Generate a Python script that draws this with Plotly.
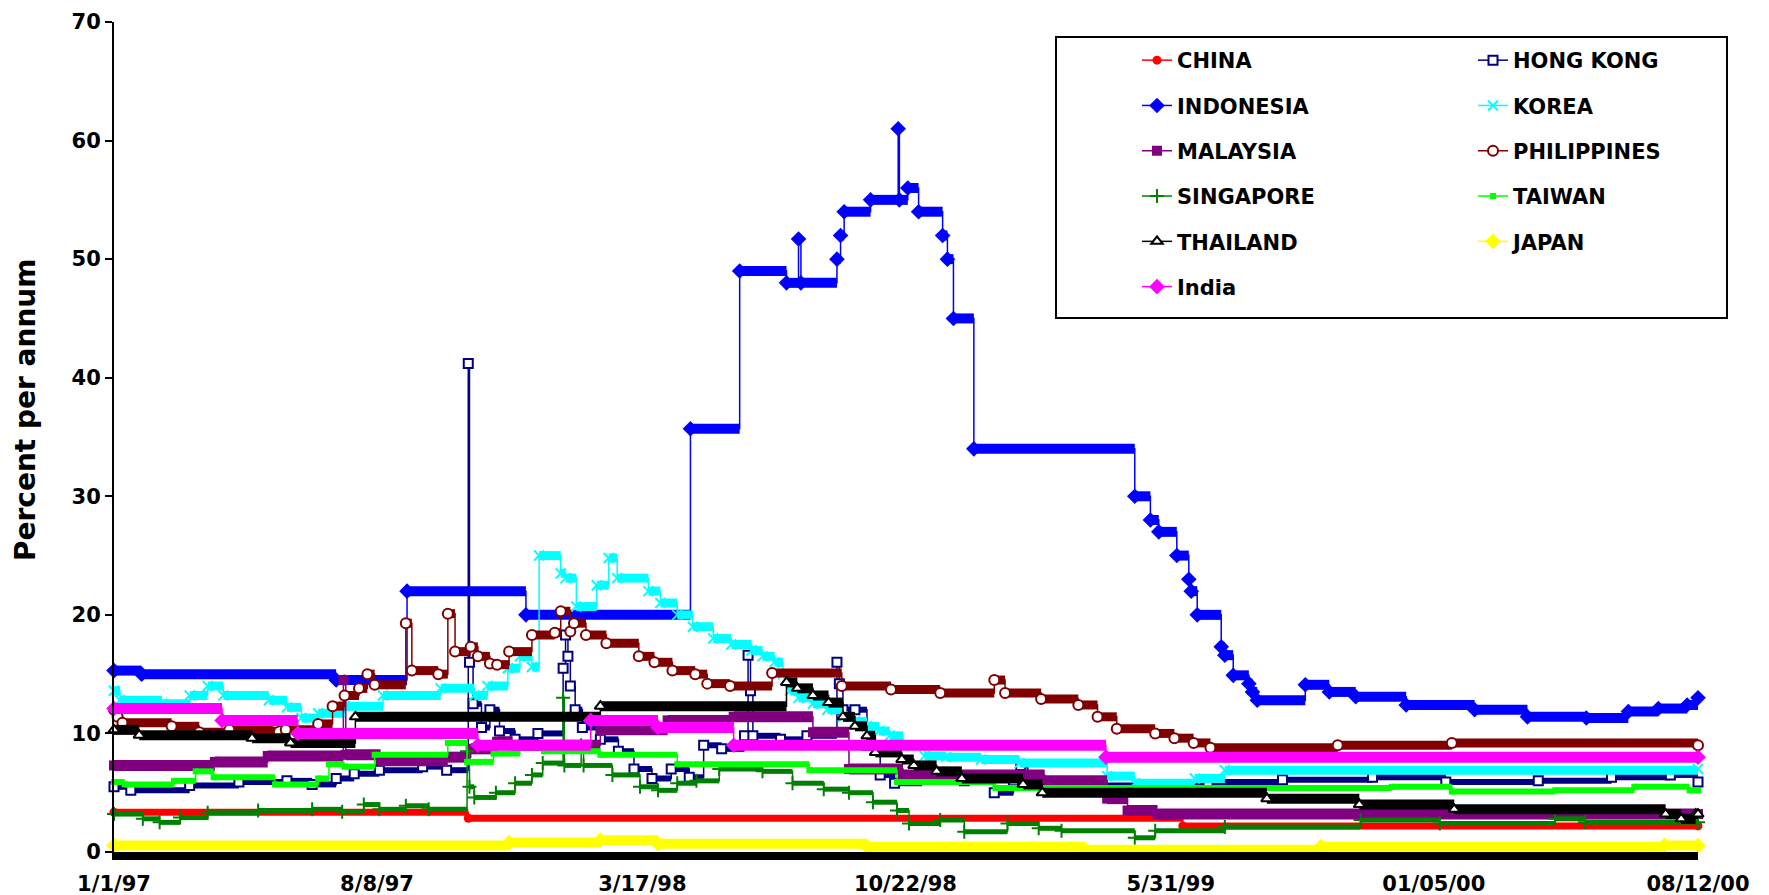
import plotly.graph_objects as go

# ---------------- data ----------------
tick_dates = ["1997-01-01", "1997-08-08", "1998-03-17", "1998-10-22",
              "1999-05-31", "2000-01-05", "2000-08-12"]
tick_labels = ["1/1/97", "8/8/97", "3/17/98", "10/22/98", "5/31/99", "01/05/00", "08/12/00"]

china_dates = ["1997-01-01", "1997-10-23", "1999-06-10", "2000-08-12"]
china_values = [3.35, 2.85, 2.2, 2.2]

hongkong_dates = ["1997-01-01", "1997-01-15", "1997-03-05", "1997-04-15", "1997-05-25", "1997-06-15",
                  "1997-07-05", "1997-07-20", "1997-08-10", "1997-09-15", "1997-10-05", "1997-10-23",
                  "1997-10-24", "1997-10-27", "1997-11-03", "1997-11-10", "1997-11-18", "1997-12-01",
                  "1997-12-20", "1998-01-10", "1998-01-12", "1998-01-14", "1998-01-16", "1998-01-20",
                  "1998-01-26", "1998-02-10", "1998-02-25", "1998-03-10", "1998-03-25", "1998-04-10",
                  "1998-04-25", "1998-05-07", "1998-05-22", "1998-06-10", "1998-06-13", "1998-06-15",
                  "1998-06-17", "1998-07-10", "1998-08-01", "1998-08-26", "1998-08-28", "1998-08-31",
                  "1998-09-10", "1998-09-20", "1998-10-01", "1998-10-13", "1998-11-05", "1998-12-10",
                  "1999-01-04", "1999-01-20", "1999-01-26", "1999-02-01", "1999-04-01", "1999-07-01",
                  "1999-09-01", "1999-11-15", "2000-01-15", "2000-04-01", "2000-06-01", "2000-07-20",
                  "2000-08-12"]
hongkong_values = [5.5, 5.2, 5.6, 5.9, 6.0, 5.7,
                   6.2, 6.6, 6.9, 7.2, 6.9, 41.2,
                   16.0, 12.5, 10.5, 12.0, 10.2, 9.5,
                   10.0, 15.5, 18.3, 16.5, 14.0, 12.0,
                   10.5, 9.5, 8.5, 7.0, 6.2, 7.0,
                   6.3, 9.0, 8.7, 9.8, 16.6, 13.6,
                   9.8, 9.5, 9.8, 16.0, 14.2, 12.0,
                   12.0, 9.0, 6.5, 5.8, 6.5, 6.0,
                   5.0, 6.0, 7.3, 6.0, 5.6, 5.9,
                   6.1, 6.3, 5.9, 6.0, 6.3, 6.5,
                   5.9]

indonesia_dates = ["1997-01-01", "1997-01-24", "1997-07-05", "1997-09-02", "1997-12-10", "1998-04-26",
                   "1998-06-06", "1998-07-15", "1998-07-25", "1998-07-27", "1998-08-26", "1998-08-29",
                   "1998-09-01", "1998-09-23", "1998-10-16", "1998-10-17", "1998-10-24", "1998-11-02",
                   "1998-11-22", "1998-11-26", "1998-12-01", "1998-12-18", "1999-05-01", "1999-05-14",
                   "1999-05-21", "1999-06-05", "1999-06-15", "1999-06-17", "1999-06-22", "1999-07-12",
                   "1999-07-15", "1999-07-22", "1999-08-04", "1999-08-07", "1999-08-11", "1999-09-20",
                   "1999-10-10", "1999-11-01", "1999-12-13", "2000-02-08", "2000-03-23", "2000-05-11",
                   "2000-06-15", "2000-07-10", "2000-08-03", "2000-08-12"]
indonesia_values = [15.3, 15.0, 14.5, 22.0, 20.0, 35.7,
                    49.0, 48.0, 51.7, 48.0, 50.0, 52.0,
                    54.0, 55.0, 61.0, 55.0, 56.0, 54.0,
                    52.0, 50.0, 45.0, 34.0, 30.0, 28.0,
                    27.0, 25.0, 23.0, 22.0, 20.0, 17.3,
                    16.6, 14.9, 14.2, 13.5, 12.8, 14.1,
                    13.5, 13.1, 12.4, 12.0, 11.4, 11.3,
                    11.85, 12.1, 12.4, 13.0]

korea_dates = ["1997-01-01", "1997-01-06", "1997-02-10", "1997-03-05", "1997-03-20", "1997-04-02",
               "1997-05-10", "1997-05-25", "1997-06-06", "1997-06-20", "1997-07-12", "1997-08-13",
               "1997-09-30", "1997-10-28", "1997-11-08", "1997-11-25", "1997-12-05", "1997-12-15",
               "1997-12-21", "1998-01-08", "1998-01-12", "1998-01-21", "1998-02-07", "1998-02-17",
               "1998-02-24", "1998-03-22", "1998-04-01", "1998-04-15", "1998-04-28", "1998-05-15",
               "1998-05-30", "1998-06-16", "1998-06-25", "1998-07-05", "1998-07-12", "1998-07-18",
               "1998-07-25", "1998-08-06", "1998-08-18", "1998-08-31", "1998-09-10", "1998-09-20",
               "1998-09-30", "1998-10-09", "1998-10-20", "1998-11-07", "1998-11-25", "1998-12-24",
               "1999-01-25", "1999-04-08", "1999-05-01", "1999-06-20", "1999-07-15", "2000-08-12"]
korea_values = [13.6, 12.8, 12.5, 13.2, 14.0, 13.2,
                12.8, 12.2, 11.3, 11.7, 12.3, 13.2,
                13.8, 13.2, 14.0, 15.5, 16.5, 15.6,
                25.0, 23.5, 23.1, 20.7, 22.5, 24.8,
                23.1, 22.0, 21.0, 20.0, 19.0, 18.0,
                17.5, 17.0, 16.5, 16.0, 15.0, 13.6,
                13.0, 12.5, 12.0, 11.4, 11.0, 10.6,
                10.2, 9.8, 9.0, 8.1, 8.0, 7.8,
                7.5, 6.4, 5.8, 6.2, 6.9, 7.0]

malaysia_dates = ["1997-01-01", "1997-03-26", "1997-05-09", "1997-07-11", "1997-07-13", "1997-08-11",
                  "1997-10-06", "1997-10-25", "1997-11-16", "1997-11-29", "1998-02-10", "1998-04-07",
                  "1998-06-01", "1998-08-06", "1998-09-05", "1998-10-20", "1999-02-15", "1999-04-08",
                  "1999-04-25", "1999-05-20", "2000-08-12"]
malaysia_values = [7.3, 7.6, 8.1, 14.5, 8.2, 7.7,
                   8.0, 8.7, 9.3, 9.0, 10.3, 11.1,
                   11.4, 10.1, 7.0, 6.5, 6.0, 4.5,
                   3.5, 3.2, 3.2]

philippines_dates = ["1997-01-01", "1997-01-04", "1997-01-08", "1997-02-18", "1997-03-13", "1997-04-07",
                     "1997-05-15", "1997-05-24", "1997-06-20", "1997-07-02", "1997-07-12", "1997-07-24",
                     "1997-07-31", "1997-08-06", "1997-09-01", "1997-09-06", "1997-09-28", "1997-10-06",
                     "1997-10-12", "1997-10-25", "1997-10-31", "1997-11-10", "1997-11-16", "1997-11-26",
                     "1997-12-15", "1998-01-03", "1998-01-08", "1998-01-16", "1998-01-19", "1998-01-29",
                     "1998-02-15", "1998-03-14", "1998-03-27", "1998-04-11", "1998-04-30", "1998-05-10",
                     "1998-05-29", "1998-07-03", "1998-08-30", "1998-10-10", "1998-11-20", "1999-01-04",
                     "1999-01-13", "1999-02-12", "1999-03-15", "1999-03-31", "1999-04-16", "1999-05-18",
                     "1999-06-03", "1999-06-19", "1999-07-03", "1999-10-17", "2000-01-20", "2000-08-12"]
philippines_values = [12.0, 11.4, 10.9, 10.6, 10.1, 10.3,
                      10.9, 10.3, 10.8, 12.3, 13.2, 13.8,
                      15.0, 14.1, 19.3, 15.3, 15.0, 20.1,
                      16.9, 17.3, 16.5, 15.9, 15.8, 16.9,
                      18.3, 18.5, 20.3, 18.6, 19.3, 18.3,
                      17.6, 16.5, 16.0, 15.3, 15.0, 14.2,
                      14.0, 15.1, 14.0, 13.7, 13.4, 14.5,
                      13.4, 12.9, 12.4, 11.4, 10.4, 10.0,
                      9.6, 9.2, 8.8, 9.0, 9.2, 9.0]

singapore_dates = ["1997-01-01", "1997-01-25", "1997-02-08", "1997-02-25", "1997-03-20", "1997-05-01",
                   "1997-06-15", "1997-07-10", "1997-07-28", "1997-08-10", "1997-09-01", "1997-09-20",
                   "1997-10-22", "1997-10-24", "1997-10-28", "1997-11-15", "1997-12-01", "1997-12-15",
                   "1997-12-24", "1998-01-10", "1998-01-11", "1998-01-25", "1998-01-27", "1998-02-20",
                   "1998-03-15", "1998-03-30", "1998-04-15", "1998-05-01", "1998-05-20", "1998-06-25",
                   "1998-07-20", "1998-08-15", "1998-09-05", "1998-09-25", "1998-10-15", "1998-10-25",
                   "1998-11-20", "1998-12-10", "1999-01-15", "1999-02-10", "1999-03-01", "1999-05-01",
                   "1999-05-18", "1999-07-15", "1999-11-05", "2000-01-10", "2000-04-15", "2000-05-10",
                   "2000-08-12"]
singapore_values = [3.2, 2.8, 2.5, 2.9, 3.3, 3.5,
                    3.6, 3.4, 4.0, 3.6, 3.9, 3.6,
                    8.5, 5.5, 4.6, 5.0, 5.8, 6.5,
                    7.5, 13.0, 7.3, 9.0, 7.3, 6.5,
                    5.5, 5.2, 5.8, 6.0, 7.0, 6.8,
                    5.8, 5.3, 5.0, 4.2, 3.5, 2.4,
                    2.7, 1.7, 2.4, 2.0, 1.8, 1.2,
                    1.8, 2.1, 2.7, 2.4, 2.8, 2.5,
                    2.5]

taiwan_dates = ["1997-01-01", "1997-01-10", "1997-02-20", "1997-03-10", "1997-03-25", "1997-05-15",
                "1997-06-20", "1997-06-29", "1997-07-12", "1997-08-06", "1997-10-06", "1997-10-22",
                "1997-11-13", "1997-12-05", "1997-12-25", "1998-02-10", "1998-04-15", "1998-08-03",
                "1998-10-15", "1999-01-05", "1999-12-01", "2000-01-20", "2000-04-15", "2000-06-20",
                "2000-08-05", "2000-08-12"]
taiwan_values = [5.9, 5.7, 6.0, 6.8, 6.3, 5.7,
                 6.2, 7.4, 7.2, 8.2, 9.2, 7.6,
                 8.3, 9.0, 8.5, 8.2, 7.4, 6.9,
                 5.9, 5.4, 5.5, 5.1, 5.2, 5.5,
                 5.2, 5.2]

thailand_dates = ["1997-01-01", "1997-01-22", "1997-04-26", "1997-05-28", "1997-07-21", "1998-02-10",
                  "1998-07-15", "1998-07-24", "1998-08-06", "1998-08-19", "1998-08-31", "1998-09-10",
                  "1998-09-20", "1998-09-27", "1998-10-19", "1998-10-29", "1998-11-17", "1998-12-08",
                  "1999-01-28", "1999-02-13", "1999-08-19", "1999-11-04", "2000-01-22", "2000-07-16",
                  "2000-07-29", "2000-08-10", "2000-08-12"]
thailand_values = [10.3, 9.85, 9.6, 9.2, 11.4, 12.3,
                   14.3, 13.8, 13.2, 12.6, 11.4, 10.6,
                   9.8, 8.4, 7.8, 7.3, 6.8, 6.2,
                   5.7, 5.0, 4.5, 4.0, 3.6, 3.2,
                   2.8, 3.2, 3.2]

japan_dates = ["1997-01-01", "1997-11-26", "1998-02-10", "1998-03-30", "1998-09-20", "1999-03-20",
               "1999-10-03", "2000-07-15", "2000-08-12"]
japan_values = [0.55, 0.8, 1.0, 0.7, 0.45, 0.2, 0.45, 0.55, 0.55]

india_dates = ["1997-01-01", "1997-04-01", "1997-06-03", "1997-10-31", "1998-02-02", "1998-03-30",
               "1998-06-01", "1999-04-07", "2000-08-12"]
india_values = [12.1, 11.1, 10.0, 9.0, 11.1, 10.5, 9.0, 8.0, 8.0]

# ---------------- styles ----------------
FONT = "DejaVu Sans"
# name, dates, values, color, symbol, marker size, marker fill, band width, legend column
series = [
    ("CHINA", china_dates, china_values, "#FF0000", "circle", 9, "#FF0000", 7, "legend"),
    ("HONG KONG", hongkong_dates, hongkong_values, "#000080", "square", 9, "#FFFFFF", 6, "legend2"),
    ("INDONESIA", indonesia_dates, indonesia_values, "#0000FF", "diamond", 12, "#0000FF", 10, "legend"),
    ("KOREA", korea_dates, korea_values, "#00FFFF", "x-thin", 10, "#00FFFF", 9, "legend2"),
    ("MALAYSIA", malaysia_dates, malaysia_values, "#800080", "square", 10, "#800080", 11, "legend"),
    ("PHILIPPINES", philippines_dates, philippines_values, "#800000", "circle", 10, "#FFFFFF", 9, "legend2"),
    ("SINGAPORE", singapore_dates, singapore_values, "#008000", "cross-thin", 10, "#008000", 5, "legend"),
    ("TAIWAN", taiwan_dates, taiwan_values, "#00FF00", "square", 6, "#00FF00", 6, "legend2"),
    ("THAILAND", thailand_dates, thailand_values, "#000000", "triangle-up", 10, "#FFFFFF", 10, "legend"),
    ("JAPAN", japan_dates, japan_values, "#FFFF00", "diamond", 12, "#FFFF00", 10, "legend2"),
    ("India", india_dates, india_values, "#FF00FF", "diamond", 12, "#FF00FF", 11, "legend"),
]


def band_xy(dates, values):
    xs, ys = [], []
    for i in range(len(dates) - 1):
        xs += [dates[i], dates[i + 1], None]
        ys += [values[i], values[i], None]
    return xs, ys


fig = go.Figure()
for name, d, v, color, symbol, msize, mfill, bw, leg in series:
    bx, by = band_xy(d, v)
    fig.add_trace(go.Scatter(
        x=bx, y=by, mode="lines", line=dict(color=color, width=bw),
        legendgroup=name, showlegend=False, hoverinfo="skip", legend=leg,
    ))
    open_marker = mfill == "#FFFFFF"
    thin = symbol in ("x-thin", "cross-thin")
    fig.add_trace(go.Scatter(
        x=d, y=v, name=name, mode="lines+markers",
        line=dict(color=color, width=1.5, shape="hv"),
        marker=dict(symbol=symbol, size=msize, color=mfill,
                    line=dict(color=color, width=2 if (open_marker or thin) else 0)),
        legendgroup=name, legend=leg, cliponaxis=False,
    ))

PL, PR, PT, PB = 114, 71, 22, 43
W, H = 1769, 895
pw = W - PL - PR
ph = H - PT - PB


def px_x(x):
    return (x - PL) / pw


def px_y(y):
    return (H - PB - y) / ph


legend_font = dict(family=FONT, size=21, color="black", weight="bold")
fig.update_layout(
    width=W, height=H,
    margin=dict(l=PL, r=PR, t=PT, b=PB, autoexpand=False),
    paper_bgcolor="white", plot_bgcolor="white",
    font=dict(family=FONT, color="black"),
    showlegend=True,
    legend=dict(x=px_x(1137), y=px_y(40), xanchor="left", yanchor="top",
                bgcolor="rgba(0,0,0,0)", borderwidth=0, font=legend_font,
                tracegroupgap=15, traceorder="grouped"),
    legend2=dict(x=px_x(1473), y=px_y(40), xanchor="left", yanchor="top",
                 bgcolor="rgba(0,0,0,0)", borderwidth=0, font=legend_font,
                 tracegroupgap=15, traceorder="grouped"),
    shapes=[dict(type="rect", xref="paper", yref="paper",
                 x0=px_x(1056), x1=px_x(1727), y0=px_y(318), y1=px_y(37),
                 line=dict(color="black", width=2), fillcolor="rgba(0,0,0,0)")],
    annotations=[dict(text="Percent per annum", textangle=-90, showarrow=False,
                      xref="paper", yref="paper", x=px_x(25), y=px_y(410),
                      xanchor="center", yanchor="middle",
                      font=dict(family=FONT, size=28, color="black", weight="bold"))],
)
fig.update_xaxes(
    type="date", range=[tick_dates[0], tick_dates[-1]],
    tickmode="array", tickvals=tick_dates, ticktext=tick_labels,
    showline=True, linewidth=8, linecolor="black", ticks="",
    showgrid=False, zeroline=False, ticklabelstandoff=6, automargin=False,
    tickfont=dict(family=FONT, size=21, color="black", weight="bold"),
)
fig.update_yaxes(
    range=[0, 70], tickmode="linear", tick0=0, dtick=10,
    showline=True, linewidth=2, linecolor="black",
    ticks="outside", ticklen=7, tickwidth=2, tickcolor="black",
    showgrid=False, zeroline=False, automargin=False,
    tickfont=dict(family=FONT, size=21, color="black", weight="bold"),
)

fig.write_html("out.html", config={"displayModeBar": False},
               post_script="document.body.style.margin='0';")
